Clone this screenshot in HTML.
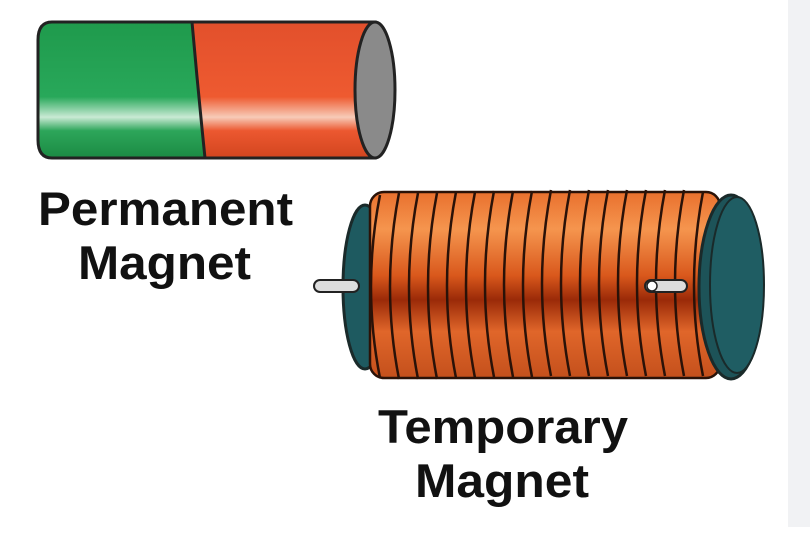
<!DOCTYPE html>
<html><head><style>
html,body{margin:0;padding:0;background:#fff;width:810px;height:542px;overflow:hidden}
svg{display:block}
text{font-family:"Liberation Sans",sans-serif;font-weight:bold;fill:#111}
</style></head><body>
<svg width="810" height="542" viewBox="0 0 810 542">
<defs>
<linearGradient id="g" x1="0" y1="0" x2="0" y2="1">
<stop offset="0" stop-color="#1f9a4c"/><stop offset="0.55" stop-color="#28a85a"/><stop offset="0.7" stop-color="#c9ead4"/><stop offset="0.8" stop-color="#2da65a"/><stop offset="1" stop-color="#1b8a43"/></linearGradient>
<linearGradient id="r" x1="0" y1="0" x2="0" y2="1">
<stop offset="0" stop-color="#e2502c"/><stop offset="0.55" stop-color="#ee5a30"/><stop offset="0.7" stop-color="#f7cbb8"/><stop offset="0.8" stop-color="#ec5830"/><stop offset="1" stop-color="#d2451f"/></linearGradient>
<linearGradient id="c" x1="0" y1="0" x2="0" y2="1">
<stop offset="0" stop-color="#e9702e"/><stop offset="0.2" stop-color="#f5954e"/><stop offset="0.45" stop-color="#d9581c"/><stop offset="0.58" stop-color="#9a2a08"/><stop offset="0.75" stop-color="#e0662a"/><stop offset="1" stop-color="#c4501c"/></linearGradient>
</defs>
<rect x="788" y="0" width="22" height="527" fill="#f1f2f4"/>
<path d="M52 22 H375 V158 H52 Q38 158 38 140 V40 Q38 22 52 22Z" fill="url(#g)" stroke="#222" stroke-width="3"/>
<path d="M192 22 H375 V158 H205 Q198 90 192 22Z" fill="url(#r)" stroke="#222" stroke-width="3"/>
<ellipse cx="375" cy="90" rx="20" ry="68" fill="#8a8a8a" stroke="#222" stroke-width="3"/>
<ellipse cx="365" cy="287" rx="22" ry="82" fill="#1e5a60" stroke="#1a2a2a" stroke-width="3"/>
<rect x="370" y="192" width="350" height="186" rx="14" fill="url(#c)" stroke="#2a1208" stroke-width="2.5"/>
<g fill="none" stroke="#2a1208" stroke-width="2.5">
<path d="M380 195 q-18 92 0 183"/><path d="M399 193 q-18 94 0 186"/><path d="M418 193 q-18 94 0 186"/><path d="M437 193 q-18 94 0 186"/><path d="M456 192 q-18 94 0 186"/><path d="M475 192 q-18 94 0 186"/><path d="M494 191 q-18 94 0 186"/><path d="M513 191 q-18 94 0 186"/><path d="M532 191 q-18 94 0 186"/><path d="M551 190 q-18 94 0 186"/><path d="M570 190 q-18 94 0 186"/><path d="M589 190 q-18 94 0 186"/><path d="M608 190 q-18 94 0 186"/><path d="M627 190 q-18 94 0 186"/><path d="M646 190 q-18 94 0 186"/><path d="M665 190 q-18 94 0 186"/><path d="M684 190 q-18 94 0 186"/><path d="M703 192 q-18 94 0 184"/>
</g>
<ellipse cx="731" cy="287" rx="32" ry="92" fill="#1d5358" stroke="#1a2a2a" stroke-width="3"/>
<ellipse cx="737" cy="285" rx="27" ry="88" fill="#1f5d63" stroke="#1a2a2a" stroke-width="2"/>
<rect x="314" y="280" width="45" height="12" rx="6" fill="#ddd" stroke="#222" stroke-width="2"/>
<rect x="645" y="280" width="42" height="12" rx="6" fill="#ddd" stroke="#222" stroke-width="2"/>
<circle cx="652" cy="286" r="5" fill="#fff" stroke="#222" stroke-width="1.5"/>
<text x="38" y="225" font-size="47" textLength="255" lengthAdjust="spacingAndGlyphs">Permanent</text>
<text x="78" y="279" font-size="47" textLength="173" lengthAdjust="spacingAndGlyphs">Magnet</text>
<text x="378" y="443" font-size="47" textLength="250" lengthAdjust="spacingAndGlyphs">Temporary</text>
<text x="415" y="497" font-size="47" textLength="174" lengthAdjust="spacingAndGlyphs">Magnet</text>
</svg>
</body></html>
